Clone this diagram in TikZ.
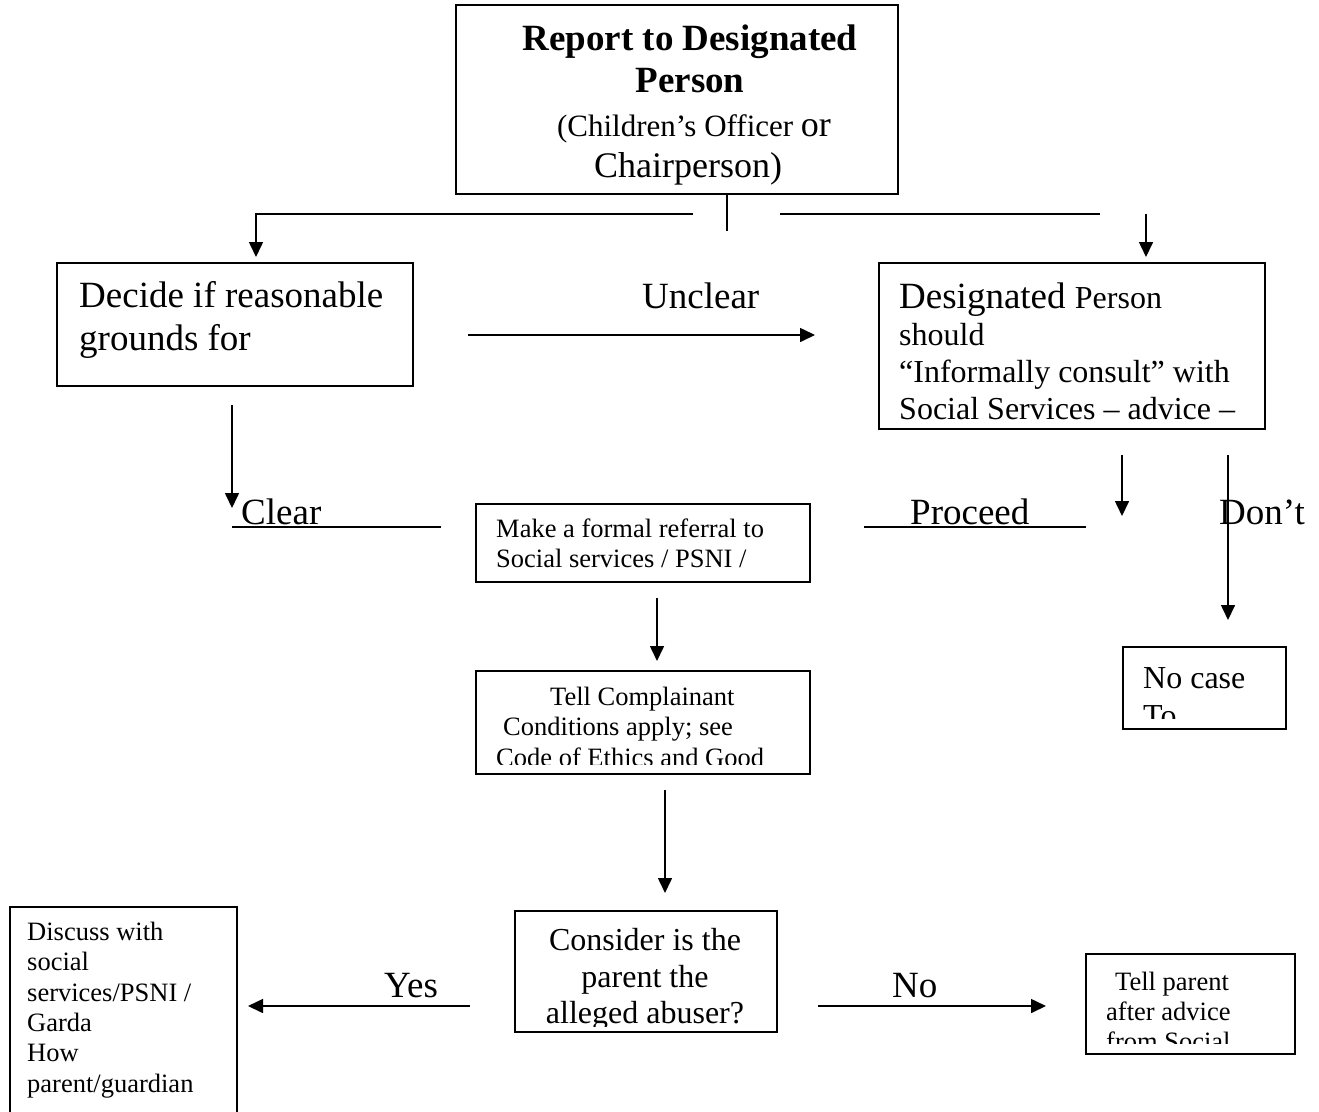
\documentclass[tikz,border=0pt]{standalone}
\usepackage{fontspec}
\setmainfont{Liberation Serif}
\usetikzlibrary{arrows.meta}
\newcommand\szBig{\fontsize{37}{42.5}\selectfont}
\newcommand\szMid{\fontsize{32}{36.8}\selectfont}
\newcommand\szLo{\fontsize{31}{35.6}\selectfont}
\newcommand\szCh{\fontsize{36}{41.4}\selectfont}
\newcommand\szSm{\fontsize{26.5}{30.5}\selectfont}
\begin{document}
\begin{tikzpicture}[x=1pt,y=-1pt,
  box/.style={draw, line width=1.6pt, inner sep=0pt, anchor=north west},
  ln/.style={line width=1.6pt},
  arr/.style={line width=1.6pt, -{Triangle[width=14pt,length=15pt]}},
  t/.style={inner sep=0pt, anchor=base west},
  tc/.style={inner sep=0pt, anchor=base}]
\useasboundingbox (0,0) rectangle (1319,1111);
\fill[white] (0,0) rectangle (1319,1111);

% ---------- boxes ----------
\node[box, minimum width=442pt, minimum height=189pt] (report) at (455,4) {};
\node[box, minimum width=356pt, minimum height=123pt] (decide) at (56,262) {};
\node[box, minimum width=386pt, minimum height=166pt] (consult) at (878,262) {};
\node[box, minimum width=334pt, minimum height=78pt] (referral) at (475,503) {};
\node[box, minimum width=334pt, minimum height=103pt] (tell) at (475,670) {};
\node[box, minimum width=163pt, minimum height=82pt] (nocase) at (1122,646) {};
\node[box, minimum width=262pt, minimum height=121pt] (consider) at (514,910) {};
\node[box, minimum width=227pt, minimum height=215pt] (discuss) at (9,906) {};
\node[box, minimum width=209pt, minimum height=100pt] (tellp) at (1085,953) {};

% ---------- texts ----------
\node[tc] (r1) at (690,50) {\szBig\bfseries Report to Designated};
\node[tc] (r2) at (690,92) {\szBig\bfseries Person};
\node[tc] (r3) at (694,136) {\szLo (Children’s Officer {\szCh or}};
\node[tc] (r4) at (688,177) {\szCh Chairperson)};

\node[t] (d1) at (79,307) {\szBig Decide if reasonable};
\node[t] (d2) at (79,350) {\szBig grounds for};
\begin{scope}
  \clip (58,264) rectangle (410,377);
  \node[t] (d3) at (82,396) {\szBig concerns};
\end{scope}

\node[t] (c1) at (899,308) {\szBig Designated {\szMid Person}};
\node[t] (c2) at (899,345) {\szMid should};
\node[t] (c3) at (899,382) {\szMid “Informally consult” with};
\node[t] (c4) at (899,419) {\szMid Social Services – advice –};

\node[t] (f1) at (496,537) {\szSm Make a formal referral to};
\node[t] (f2) at (496,567) {\szSm Social services / PSNI /};

\node[t] (t1) at (550,705) {\szSm Tell Complainant};
\node[t] (t2) at (503,735) {\szSm Conditions apply; see};
\begin{scope}
  \clip (477,672) rectangle (807,764);
  \node[t] (t3) at (496,766) {\szSm Code of Ethics and Good};
\end{scope}

\node[t] (n1) at (1143,688) {\szMid No case};
\begin{scope}
  \clip (1124,648) rectangle (1283,718);
  \node[t] (n2) at (1143,726) {\szMid To};
\end{scope}

\node[tc] (k1) at (645,950) {\szMid Consider is the};
\node[tc] (k2) at (645,987) {\szMid parent the};
\begin{scope}
  \clip (516,912) rectangle (774,1026);
  \node[tc] (k3) at (645,1023) {\szMid alleged abuser?};
\end{scope}

\node[t] (s1) at (27,940) {\szSm Discuss with};
\node[t] (s2) at (27,970) {\szSm social};
\node[t] (s3) at (27,1001) {\szSm services/PSNI /};
\node[t] (s4) at (27,1031) {\szSm Garda};
\node[t] (s5) at (27,1061) {\szSm How};
\node[t] (s6) at (27,1092) {\szSm parent/guardian};

\node[t] (p1) at (1115,990) {\szSm Tell parent};
\node[t] (p2) at (1106,1020) {\szSm after advice};
\begin{scope}
  \clip (1087,955) rectangle (1292,1043);
  \node[t] (p3) at (1106,1050) {\szSm from Social};
\end{scope}

% labels
\node[t] (unclear) at (642,308) {\szBig Unclear};
\node[t] (clear) at (241,524) {\szBig Clear};
\node[t] (proceed) at (910,524) {\szBig Proceed};
\node[t] (dont) at (1219,524) {\szBig Don’t};
\node[t] (yes) at (384,997) {\szBig Yes};
\node[t] (no) at (892,997) {\szBig No};

% ---------- connectors ----------
\coordinate (stub) at (727,231);
\draw[ln] (report.south -| stub) -- (stub);

\coordinate (la) at (693,214);
\coordinate (lb) at (256,214);
\coordinate (lc) at (256,257);
\draw[arr] (la) -- (lb) -- (lc);

\coordinate (ra) at (780,214);
\coordinate (rb) at (1100,214);
\draw[ln] (ra) -- (rb);
\coordinate (rc) at (1146,214);
\coordinate (rd) at (1146,257);
\draw[arr] (rc) -- (rd);

\coordinate (ua) at (468,335);
\coordinate (ub) at (815,335);
\draw[arr] (ua) -- (ub);

\coordinate (va) at (232,405);
\coordinate (vb) at (232,508);
\draw[arr] (va) -- (vb);

\coordinate (cla) at (232,527);
\coordinate (clb) at (441,527);
\draw[ln] (cla) -- (clb);

\coordinate (pra) at (864,527);
\coordinate (prb) at (1086,527);
\draw[ln] (pra) -- (prb);

\coordinate (qa) at (1122,455);
\coordinate (qb) at (1122,516);
\draw[arr] (qa) -- (qb);

\coordinate (da) at (1228,455);
\coordinate (db) at (1228,620);
\draw[arr] (da) -- (db);

\coordinate (ma) at (657,598);
\coordinate (mb) at (657,661);
\draw[arr] (ma) -- (mb);

\coordinate (ta) at (665,790);
\coordinate (tb) at (665,893);
\draw[arr] (ta) -- (tb);

\coordinate (ya) at (470,1006);
\coordinate (yb) at (248,1006);
\draw[arr] (ya) -- (yb);

\coordinate (na) at (818,1006);
\coordinate (nb) at (1046,1006);
\draw[arr] (na) -- (nb);
\end{tikzpicture}
\end{document}
